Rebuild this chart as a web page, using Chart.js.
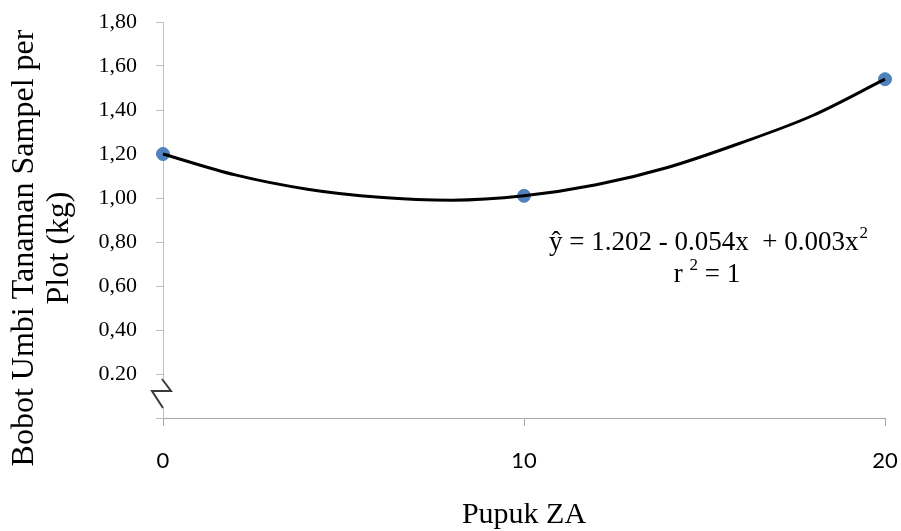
<!DOCTYPE html>
<html lang="id">
<head>
    <meta charset="UTF-8">
    <title>Bobot Umbi vs Pupuk ZA</title>
    <script src="https://cdn.jsdelivr.net/npm/chart.js"></script>
    <style>
        html, body { margin: 0; padding: 0; background: #fff; }
        #wrap { width: 901px; height: 531px; }
    </style>
</head>
<body>
    <div id="wrap"><canvas id="myChart" width="901" height="531"></canvas></div>

    <script>
        // observed points
        const dosisZA = [0, 10, 20];
        const bobotUmbi = [1.20, 1.01, 1.54];

        // regression curve
        const trendX = [0, 2, 4, 6, 8, 10, 12, 14, 16, 18, 20];
        const trendY = [1.20, 1.105, 1.04, 1.003, 0.99, 1.01, 1.06, 1.14, 1.25, 1.375, 1.54];

        // y tick labels (0 has no label, 0.20 written with a period as in the original)
        const yTickLabels = ['', '0.20', '0,40', '0,60', '0,80', '1,00', '1,20', '1,40', '1,60', '1,80'];

        const yTitle = ['Bobot Umbi Tanaman Sampel per', 'Plot (kg)'];
        const xTitle = 'Pupuk ZA';
        const eqLine1 = 'ŷ = 1.202 - 0.054x  + 0.003x';
        const eqLine2a = 'r ';
        const eqLine2b = ' = 1';

        const serif = '"Liberation Serif", "Times New Roman", serif';

        // no extra label padding, so the plot area sits where the original has it
        function noPad(scale) {
            scale.paddingLeft = 0;
            scale.paddingRight = 0;
            scale.paddingTop = 0;
            scale.paddingBottom = 0;
        }

        // y title, equation text and the axis break mark
        const extras = {
            id: 'extras',
            afterDraw(chart) {
                const ctx = chart.ctx;
                ctx.save();

                // axis break on the y axis
                ctx.fillStyle = '#fff';
                ctx.fillRect(159, 379, 8, 29);
                ctx.strokeStyle = '#3a3a3a';
                ctx.lineWidth = 2;
                ctx.beginPath();
                ctx.moveTo(162, 379);
                ctx.lineTo(171, 391);
                ctx.lineTo(152, 391);
                ctx.lineTo(163, 408);
                ctx.stroke();

                // y axis title, two lines
                ctx.fillStyle = '#000';
                ctx.font = '32px ' + serif;
                ctx.textAlign = 'center';
                ctx.textBaseline = 'alphabetic';
                ctx.translate(0, 248);
                ctx.rotate(-Math.PI / 2);
                ctx.fillText(yTitle[0], 0, 33);
                ctx.fillText(yTitle[1], 0, 68);
                ctx.setTransform(1, 0, 0, 1, 0, 0);

                // regression equation
                ctx.textAlign = 'left';
                ctx.font = '27px ' + serif;
                const w1 = ctx.measureText(eqLine1).width;
                ctx.font = '17px ' + serif;
                const ws = ctx.measureText('2').width;
                let x0 = 708 - (w1 + ws) / 2;
                ctx.font = '27px ' + serif;
                ctx.fillText(eqLine1, x0, 250);
                ctx.font = '17px ' + serif;
                ctx.fillText('2', x0 + w1 + 1, 238);

                ctx.font = '27px ' + serif;
                const wa = ctx.measureText(eqLine2a).width;
                const wb = ctx.measureText(eqLine2b).width;
                x0 = 707 - (wa + ws + wb) / 2;
                ctx.fillText(eqLine2a, x0, 282);
                ctx.font = '17px ' + serif;
                ctx.fillText('2', x0 + wa, 270);
                ctx.font = '27px ' + serif;
                ctx.fillText(eqLine2b, x0 + wa + ws, 282);

                ctx.restore();
            }
        };

        const config = {
            type: 'scatter',
            data: {
                datasets: [{
                    type: 'line',
                    label: 'Regresi',
                    data: trendX.map((x, i) => ({ x: x, y: trendY[i] })),
                    borderColor: '#000',
                    borderWidth: 3,
                    pointRadius: 0,
                    cubicInterpolationMode: 'monotone',
                    fill: false,
                    order: 0
                }, {
                    label: 'Bobot umbi',
                    data: dosisZA.map((x, i) => ({ x: x, y: bobotUmbi[i] })),
                    backgroundColor: '#4f81bd',
                    borderColor: '#4f81bd',
                    pointRadius: 6.5,
                    order: 1
                }]
            },
            options: {
                responsive: false,
                animation: false,
                clip: false,
                layout: { padding: { left: 0, right: 16, top: 22, bottom: 0 } },
                plugins: {
                    legend: { display: false },
                    tooltip: { enabled: false }
                },
                scales: {
                    x: {
                        type: 'linear',
                        min: 0,
                        max: 20,
                        afterFit(scale) { scale.height = 113; noPad(scale); },
                        ticks: {
                            stepSize: 10,
                            padding: 22,
                            color: '#000',
                            font: { family: 'Lato', size: 22 }
                        },
                        grid: {
                            drawOnChartArea: false,
                            drawTicks: true,
                            tickLength: 8,
                            color: '#a6a6a6'
                        },
                        border: { color: '#a6a6a6', width: 1 },
                        title: {
                            display: true,
                            text: xTitle,
                            color: '#000',
                            font: { family: 'Liberation Serif', size: 30, lineHeight: 1 },
                            padding: { top: 0, bottom: 1 }
                        }
                    },
                    y: {
                        type: 'linear',
                        min: 0,
                        max: 1.8,
                        afterFit(scale) { scale.width = 163; noPad(scale); },
                        afterBuildTicks(scale) {
                            scale.ticks = yTickLabels.map((t, i) => ({ value: Math.round(i * 2) / 10 }));
                        },
                        ticks: {
                            padding: 19,
                            color: '#000',
                            font: { family: 'Liberation Serif', size: 22 },
                            callback: (value, index) => yTickLabels[index]
                        },
                        grid: {
                            drawOnChartArea: false,
                            drawTicks: true,
                            tickLength: 7,
                            color: '#bfbfbf'
                        },
                        border: { color: '#bfbfbf', width: 1 }
                    }
                }
            },
            plugins: [extras]
        };

        var myChart = new Chart(document.getElementById('myChart'), config);
    </script>
</body>
</html>
